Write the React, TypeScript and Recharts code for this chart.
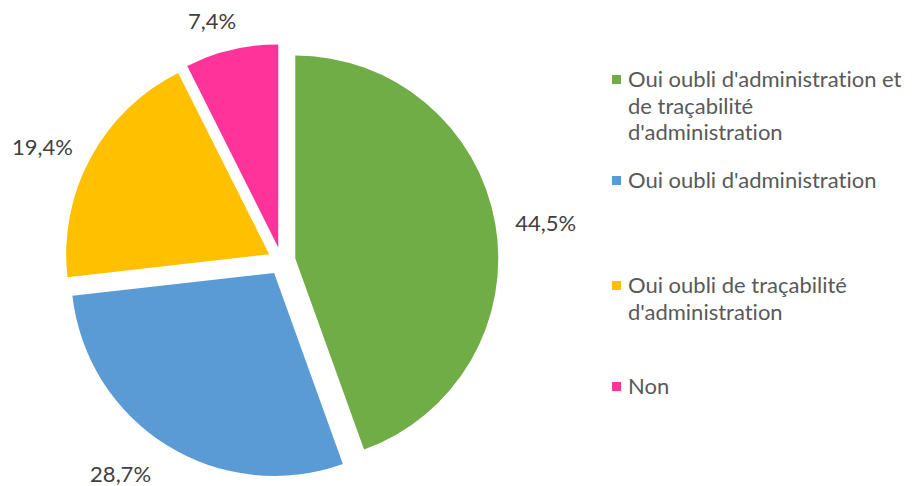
import React from 'react';
import { PieChart, Pie, Cell, Legend } from 'recharts';

const categories = [
  "Oui oubli d'administration et de traçabilité d'administration",
  "Oui oubli d'administration",
  'Oui oubli de traçabilité d\'administration',
  'Non',
];
const values = [44.5, 28.7, 19.4, 7.4];
const colors = ['#70AD47', '#5B9BD5', '#FFC000', '#FF3399'];

const data = categories.map((name, i) => ({ name, value: values[i] }));

const W = 912;
const H = 486;
const CX = 281.5;
const CY = 261;
const R = 203;
const EXPLODE = 14;
const FONT = 'Lato, "Open Sans", sans-serif';
const RAD = Math.PI / 180;
// label placement tweaks (radial distance beyond the rim, angular shift in degrees)
const LABEL_DR = [50, 50, 48, 33];
const LABEL_DA = [-1.8, -5.5, 3.1, 3.0];

const total = values.reduce((a, b) => a + b, 0);
const midAngles = (() => {
  let start = 90;
  return values.map((v) => {
    const sweep = (v / total) * 360;
    const mid = start - sweep / 2;
    start -= sweep;
    return mid;
  });
})();

const fmt = (v: number) => v.toFixed(1).replace('.', ',') + '%';

const makeLabel = (visible: number) => (props: any) => {
  const { cx, cy, midAngle, outerRadius, index, value } = props;
  if (index !== visible) return null;
  const r = outerRadius + LABEL_DR[index];
  const a = midAngle + LABEL_DA[index];
  const x = cx + r * Math.cos(-a * RAD);
  const y = cy + r * Math.sin(-a * RAD);
  return (
    <text
      x={x}
      y={y}
      textAnchor="middle"
      dominantBaseline="central"
      fill="#404040"
      fontSize={22}
      fontFamily={FONT}
    >
      {fmt(value)}
    </text>
  );
};

const slotTops = [66, 167, 272, 373];

const renderLegend = () => (
  <div
    style={{
      position: 'relative',
      width: 300,
      height: 420,
      fontFamily: FONT,
      fontVariantLigatures: 'none',
      fontFeatureSettings: '"liga" 0, "clig" 0',
    }}
  >
    {categories.map((name, i) => (
      <div
        key={name}
        style={{
          position: 'absolute',
          left: 0,
          top: slotTops[i] - 66,
          display: 'flex',
          alignItems: 'flex-start',
        }}
      >
        <div
          style={{
            width: 9,
            height: 9,
            background: colors[i],
            marginTop: 9,
            marginRight: 7,
            flex: '0 0 auto',
          }}
        />
        <div
          style={{
            width: 285,
            fontSize: 22,
            lineHeight: '26.5px',
            color: '#595959',
            textAlign: 'left',
          }}
        >
          {name}
        </div>
      </div>
    ))}
  </div>
);

export default function App() {
  return (
    <div style={{ position: 'absolute', left: 0, top: 0, width: W, height: H, background: '#fff' }}>
      <PieChart width={W} height={H} margin={{ top: 0, right: 0, bottom: 0, left: 0 }}>
        {values.map((_, k) => (
          <Pie
            key={k}
            data={data}
            dataKey="value"
            nameKey="name"
            cx={CX + EXPLODE * Math.cos(midAngles[k] * RAD)}
            cy={CY - EXPLODE * Math.sin(midAngles[k] * RAD)}
            outerRadius={R}
            innerRadius={0}
            startAngle={90}
            endAngle={-270}
            stroke="none"
            isAnimationActive={false}
            labelLine={false}
            label={makeLabel(k)}
          >
            {data.map((d, i) => (
              <Cell key={d.name} fill={i === k ? colors[i] : 'transparent'} stroke="none" />
            ))}
          </Pie>
        ))}
        <Legend
          layout="vertical"
          align="right"
          verticalAlign="top"
          content={renderLegend}
          wrapperStyle={{ left: 612, top: 66, width: 300 }}
        />
      </PieChart>
    </div>
  );
}
